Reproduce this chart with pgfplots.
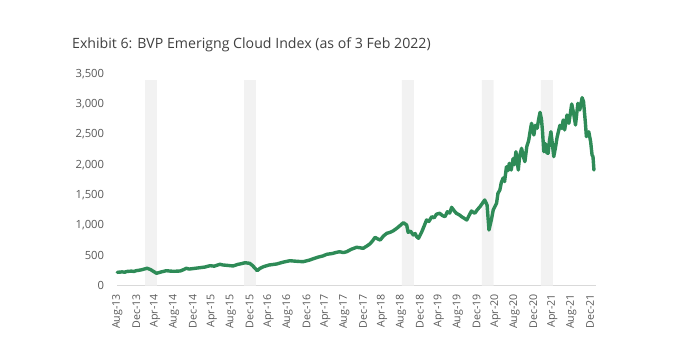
\documentclass[border=0pt]{standalone}
\usepackage{fontspec}
\setmainfont{Open Sans}
\usepackage{pgfplots}
\pgfplotsset{compat=1.18}
\definecolor{lineg}{RGB}{46,139,87}
\definecolor{band}{RGB}{242,242,242}
\definecolor{tickc}{RGB}{89,89,89}
\definecolor{titlec}{RGB}{64,64,64}
\definecolor{axc}{RGB}{217,217,217}
\begin{document}
\begin{tikzpicture}[x=1bp,y=1bp]
\path[use as bounding box] (0,0) rectangle (677,356);
\node[anchor=west, inner sep=0, text=titlec, font=\fontsize{14.2}{16}\selectfont] at (72,311) {Exhibit 6: BVP Emerigng Cloud Index (as of 3 Feb 2022)};
\begin{axis}[
  at={(117.3bp,70.5bp)}, anchor=south west,
  scale only axis, width=479bp, height=211.5bp,
  xmin=0, xmax=101.3, ymin=0, ymax=3500,
  axis x line*=bottom, axis y line*=left,
  axis line style={-},
  x axis line style={draw=axc, line width=0.8bp},
  y axis line style={draw=none},
  major tick length=0pt,
  ytick={0,500,...,3500},
  scaled y ticks=false,
  /pgf/number format/.cd, 1000 sep={,}, assume math mode=true,
  /pgfplots/.cd,
  yticklabel style={font=\fontsize{11.3}{13}\selectfont, text=tickc, inner sep=0pt, anchor=east},
  yticklabel shift=13bp,
  xtick={0,4,...,100},
  xticklabels={Aug-13,Dec-13,Apr-14,Aug-14,Dec-14,Apr-15,Aug-15,Dec-15,Apr-16,Aug-16,Dec-16,Apr-17,Aug-17,Dec-17,Apr-18,Aug-18,Dec-18,Apr-19,Aug-19,Dec-19,Apr-20,Aug-20,Dec-20,Apr-21,Aug-21,Dec-21},
  xticklabel style={font=\fontsize{10.7}{12}\selectfont, text=tickc, inner sep=0pt, rotate=90, anchor=east},
  xticklabel shift=8.5bp,
  clip=false,
]
\addplot[fill=band, draw=none, forget plot] coordinates {(5.86,0) (5.86,3400) (8.39,3400) (8.39,0)} \closedcycle;
\addplot[fill=band, draw=none, forget plot] coordinates {(26.8,0) (26.8,3400) (29.3,3400) (29.3,0)} \closedcycle;
\addplot[fill=band, draw=none, forget plot] coordinates {(60.2,0) (60.2,3400) (62.7,3400) (62.7,0)} \closedcycle;
\addplot[fill=band, draw=none, forget plot] coordinates {(77.1,0) (77.1,3400) (79.6,3400) (79.6,0)} \closedcycle;
\addplot[fill=band, draw=none, forget plot] coordinates {(89.6,0) (89.6,3400) (92.1,3400) (92.1,0)} \closedcycle;
\addplot[color=lineg, line width=3.4bp, line join=round, line cap=round] coordinates {
(0,218) (1,225) (1.6,220) (2,232) (3,238) (3.5,232) (4,245) (5,258) (5.5,268) (6.3,285) (7,265) (8.3,202)
(9.3,225) (10.4,245) (11.2,238) (12,235) (13.3,240) (14,262) (14.6,285) (15.2,272) (16,280) (17.5,295) (18.5,305)
(19.6,328) (20.5,320) (21.7,351) (22.3,340) (23,335) (24.5,323) (25.5,350) (26.3,362) (27,377) (28,367)
(28.6,330) (29.6,245) (30.2,285) (30.9,311) (31.5,325) (32.1,339) (33.7,356) (35,385) (36.5,410)
(38,400) (39.3,394) (40.7,422) (41.5,445) (42.5,470) (43.5,490) (44.3,516) (45.5,530) (46.3,548) (47,559) (47.8,545) (48.5,559)
(49.5,600) (50.6,632) (51.3,625) (52,615) (52.7,650) (53.4,687) (54,740) (54.5,797) (55.1,770) (55.6,753) (56.3,820) (57,864) (57.7,880) (58.4,907)
(59.1,947) (59.7,985) (60.5,1040) (61.2,1001) (61.5,880) (62,900) (62.6,836) (63,860) (63.3,808) (63.7,781)
(64.4,890) (65.4,1084) (65.9,1060) (66.5,1139) (67,1120) (67.5,1180) (68.2,1195) (68.7,1160) (69.3,1139) (69.8,1220) (70.3,1200) (70.7,1294)
(71.2,1240) (71.7,1195) (72.3,1170) (72.8,1140) (73.4,1110) (73.9,1084) (74.4,1160) (74.9,1233) (75.6,1195) (76.2,1260) (76.7,1304) (77.2,1360) (77.7,1415)
(78.2,1332) (78.6,918) (79.1,1084) (79.5,1250) (80.2,1360) (80.5,1526) (80.9,1580)
(81.2,1700) (81.6,1780) (81.9,1720) (82.3,1966) (82.6,1900) (82.9,2022) (83.3,1911) (83.7,2100) (84,2000) (84.3,2214) (84.8,1911) (85.1,2150) (85.5,2270)
(85.8,2150) (86.2,2049) (86.6,2300) (87,2400) (87.3,2550) (87.6,2684) (88.1,2491) (88.4,2650) (88.8,2602) (89.1,2750) (89.4,2866) (89.7,2750) (89.9,2574)
(90.2,2214) (90.5,2350) (90.8,2200) (91.1,2188) (91.4,2400) (91.7,2545) (92,2350) (92.3,2132) (92.7,2300) (93,2450) (93.3,2550) (93.6,2650) (94,2600) (94.3,2739)
(94.6,2574) (95.1,2822) (95.5,2684) (96.1,3004) (96.5,2850) (96.9,2656) (97.4,3015)
(97.8,2905) (98.3,3108) (98.6,3042) (99,2684) (99.2,2463) (99.7,2545) (100.1,2380)
(100.4,2160) (100.6,2132) (100.8,1911)
};
\end{axis}
\end{tikzpicture}
\end{document}
